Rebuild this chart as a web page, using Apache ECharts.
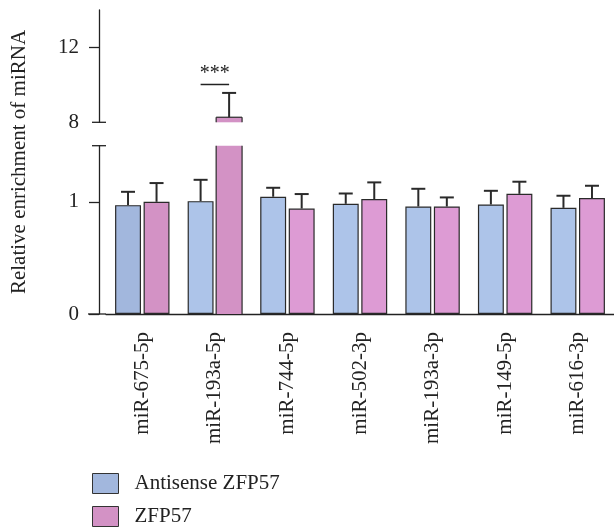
<!DOCTYPE html>
<html>
<head>
<meta charset="utf-8">
<script src="https://cdn.jsdelivr.net/npm/echarts@6/dist/echarts.min.js"></script>
<style>html,body{margin:0;padding:0;background:#fff}#c{width:614px;height:532px}</style>
</head>
<body>
<div id="c"></div>
<script>
const categories = ['miR-675-5p','miR-193a-5p','miR-744-5p','miR-502-3p','miR-193a-3p','miR-149-5p','miR-616-3p'];
const seriesNames = ['Antisense ZFP57','ZFP57'];
const antisense = [0.97, 1.006, 1.045, 0.982, 0.958, 0.976, 0.946];
const antisenseErr = [0.119, 0.19, 0.08, 0.092, 0.158, 0.122, 0.108];
const zfp57 = [1.0, 8.27, 0.94, 1.024, 0.958, 1.071, 1.033];
const zfp57Err = [0.167, 1.30, 0.129, 0.149, 0.081, 0.108, 0.11];
const lowerTicks = [0, 1];
const upperTicks = [8, 12];
const lowerRange = [0, 1.5];
const upperRange = [8, 14];
const sigLevel = 10.02;
const sigText = '***';
const sigCategory = 1;

const FONT = '"Liberation Serif", "Times New Roman", serif';
const INK = '#222';
const EDGE = '#2a2a2a';
const colorsBlue = ['#a2b7dd', '#adc4e9', '#adc4e9', '#adc4e9', '#adc4e9', '#adc4e9', '#adc4e9'];
const colorsPink = ['#d392c5', '#d392c5', '#dd9bd4', '#dd9bd4', '#dd9bd4', '#dd9bd4', '#dd9bd4'];

const GRID_LEFT = 106, GRID_RIGHT = -2;
const LOW_TOP = 145.7, LOW_BOTTOM = 314;
const UP_TOP = 10, UP_BOTTOM = 122.3;
const AXIS_X = 99;
const CAT_GAP = 0.25, BAR_GAP = 0.1;
const BORDER_W = 1.2;

function barWidthOf(bandWidth) { return bandWidth * (1 - CAT_GAP) / (2 + BAR_GAP); }
function barOffset(bandWidth) { return barWidthOf(bandWidth) * (1 + BAR_GAP) / 2; }

const errData = [];
antisense.forEach((v, i) => errData.push([i, v, antisenseErr[i], 0]));
zfp57.forEach((v, i) => errData.push([i, v, zfp57Err[i], 1]));
const errLow = errData.filter(d => d[1] + d[2] <= lowerRange[1]);
const errUp = errData.filter(d => d[1] >= upperRange[0]);
const brokenBars = errData.filter(d => d[1] > lowerRange[1]);

function renderErr(params, api) {
  const ci = api.value(0), v = api.value(1), e = api.value(2), s = api.value(3);
  const band = api.size([1, 0])[0];
  const off = barOffset(band) * (s === 0 ? -1 : 1);
  const p0 = api.coord([ci, v]);
  const p1 = api.coord([ci, v + e]);
  const x = p0[0] + off;
  const cap = 7;
  const st = { stroke: EDGE, lineWidth: 2 };
  return {
    type: 'group',
    children: [
      { type: 'line', shape: { x1: x, y1: p0[1], x2: x, y2: p1[1] }, style: st },
      { type: 'line', shape: { x1: x - cap, y1: p1[1], x2: x + cap, y2: p1[1] }, style: st }
    ]
  };
}

// outline for bars that cross the axis break (open at the break)
function makeBrokenOutline(range, upper) {
  return function (params, api) {
    const ci = api.value(0), v = api.value(1), s = api.value(3);
    const band = api.size([1, 0])[0];
    const bw = barWidthOf(band);
    const off = barOffset(band) * (s === 0 ? -1 : 1);
    const c = api.coord([ci, range[0]])[0] + off;
    const yLo = api.coord([ci, range[0]])[1];
    const yHi = upper ? api.coord([ci, v])[1] : api.coord([ci, range[1]])[1];
    const l = c - bw / 2, r = c + bw / 2;
    const st = { stroke: EDGE, lineWidth: BORDER_W };
    const kids = [
      { type: 'line', shape: { x1: l, y1: yLo, x2: l, y2: yHi }, style: st },
      { type: 'line', shape: { x1: r, y1: yLo, x2: r, y2: yHi }, style: st }
    ];
    if (upper) kids.push({ type: 'line', shape: { x1: l, y1: yHi, x2: r, y2: yHi }, style: st });
    return { type: 'group', children: kids };
  };
}

function renderSig(params, api) {
  const ci = api.value(0), v = api.value(1);
  const band = api.size([1, 0])[0];
  const off = barOffset(band);
  const p = api.coord([ci, v]);
  return {
    type: 'group',
    children: [
      { type: 'line', shape: { x1: p[0] - off, y1: p[1], x2: p[0] + off, y2: p[1] }, style: { stroke: INK, lineWidth: 1.5 } },
      { type: 'text', x: p[0], y: p[1] - 1, style: { text: sigText, fill: INK, font: '20px ' + FONT, align: 'center', verticalAlign: 'bottom' } }
    ]
  };
}

const chart = echarts.init(document.getElementById('c'), null, { renderer: 'canvas' });

function yAxisBase(gi, range, ticks, showTicks) {
  return {
    type: 'value', gridIndex: gi, min: range[0], max: range[1], offset: GRID_LEFT - AXIS_X,
    splitLine: { show: false },
    axisLine: { show: true, lineStyle: { color: INK, width: 1.3 } },
    axisTick: { show: true, length: 10, customValues: showTicks, lineStyle: { color: INK, width: 1.3 } },
    axisLabel: { customValues: ticks, margin: 20, color: INK, fontFamily: FONT, fontSize: 21 }
  };
}

function barData(values, colors, filterUpper) {
  return values.map((v, i) => {
    if (filterUpper && v < upperRange[0]) return '-';
    const broken = v > lowerRange[1];
    return { value: v, itemStyle: { color: colors[i], borderWidth: broken ? 0 : BORDER_W } };
  });
}

const barBase = { type: 'bar', barCategoryGap: '25%', barGap: '10%' };

chart.setOption({
  animation: false,
  grid: [
    { left: GRID_LEFT, right: GRID_RIGHT, top: LOW_TOP, height: LOW_BOTTOM - LOW_TOP },
    { left: GRID_LEFT, right: GRID_RIGHT, top: UP_TOP, height: UP_BOTTOM - UP_TOP }
  ],
  xAxis: [
    {
      type: 'category', gridIndex: 0, data: categories,
      axisLine: { lineStyle: { color: INK, width: 1.3 } },
      axisTick: { alignWithLabel: true, length: 11, lineStyle: { color: '#444', width: 1.3 } },
      axisLabel: { rotate: 90, margin: 18, color: INK, fontFamily: FONT, fontSize: 21, interval: 0 }
    },
    { type: 'category', gridIndex: 1, data: categories, show: false }
  ],
  yAxis: [
    yAxisBase(0, lowerRange, lowerTicks, lowerTicks),
    yAxisBase(1, upperRange, upperTicks, [upperTicks[1]])
  ],
  legend: {
    orient: 'vertical', left: 92, top: 473, itemWidth: 26, itemHeight: 20, itemGap: 12, padding: 0,
    icon: 'rect',
    data: seriesNames,
    itemStyle: { borderColor: '#333', borderWidth: 1 },
    textStyle: { fontFamily: FONT, fontSize: 21, color: INK, padding: [0, 0, 0, 11] }
  },
  series: [
    Object.assign({ name: seriesNames[0], xAxisIndex: 0, yAxisIndex: 0,
      itemStyle: { color: colorsBlue[0], borderColor: EDGE, borderWidth: BORDER_W },
      data: barData(antisense, colorsBlue, false) }, barBase),
    Object.assign({ name: seriesNames[1], xAxisIndex: 0, yAxisIndex: 0,
      itemStyle: { color: colorsPink[0], borderColor: EDGE, borderWidth: BORDER_W },
      data: barData(zfp57, colorsPink, false) }, barBase),
    Object.assign({ name: seriesNames[0], xAxisIndex: 1, yAxisIndex: 1,
      itemStyle: { color: colorsBlue[0], borderColor: EDGE, borderWidth: BORDER_W },
      data: barData(antisense, colorsBlue, true) }, barBase),
    Object.assign({ name: seriesNames[1], xAxisIndex: 1, yAxisIndex: 1,
      itemStyle: { color: colorsPink[0], borderColor: EDGE, borderWidth: BORDER_W },
      data: barData(zfp57, colorsPink, true) }, barBase),
    { type: 'custom', xAxisIndex: 0, yAxisIndex: 0, renderItem: makeBrokenOutline(lowerRange, false), data: brokenBars, z: 3 },
    { type: 'custom', xAxisIndex: 1, yAxisIndex: 1, renderItem: makeBrokenOutline(upperRange, true), data: brokenBars, z: 3 },
    { type: 'custom', xAxisIndex: 0, yAxisIndex: 0, renderItem: renderErr, data: errLow, z: 3 },
    { type: 'custom', xAxisIndex: 1, yAxisIndex: 1, renderItem: renderErr, data: errUp, z: 3 },
    { type: 'custom', xAxisIndex: 1, yAxisIndex: 1, renderItem: renderSig, data: [[sigCategory, sigLevel]], z: 3 }
  ],
  graphic: [
    { type: 'line', shape: { x1: 88, y1: LOW_BOTTOM, x2: GRID_LEFT, y2: LOW_BOTTOM }, style: { stroke: INK, lineWidth: 1.3 } },
    { type: 'line', shape: { x1: AXIS_X - 7, y1: UP_BOTTOM, x2: AXIS_X + 7, y2: UP_BOTTOM }, style: { stroke: INK, lineWidth: 1.3 } },
    { type: 'line', shape: { x1: AXIS_X - 7, y1: LOW_TOP, x2: AXIS_X + 7, y2: LOW_TOP }, style: { stroke: INK, lineWidth: 1.3 } },
    { type: 'text', x: 19, y: 162, rotation: Math.PI / 2,
      style: { text: 'Relative enrichment of miRNA', font: '21px ' + FONT, fill: INK, align: 'center', verticalAlign: 'middle' } }
  ]
});
</script>
</body>
</html>
